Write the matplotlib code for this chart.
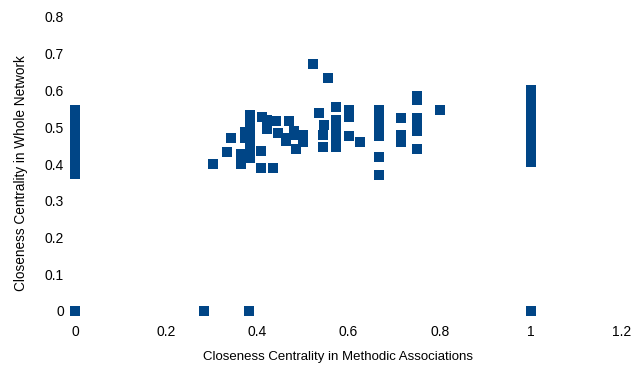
import matplotlib
matplotlib.use("Agg")
import matplotlib.pyplot as plt

plt.rcParams['font.family'] = ['Liberation Sans', 'DejaVu Sans']

# Closeness centrality: methodic associations (x) vs whole network (y)
x_vals = [
    # nodes at x = 0 (stacked column)
    0, 0, 0, 0, 0, 0, 0, 0, 0, 0, 0, 0, 0, 0,
    # zero closeness in whole network
    0, 0.283, 0.382, 1,
    # main cluster
    0.302, 0.334, 0.343, 0.365, 0.365, 0.372, 0.372,
    0.385, 0.385, 0.385, 0.385, 0.385, 0.385, 0.385, 0.385,
    0.411, 0.422, 0.422, 0.409, 0.409, 0.435,
    0.442, 0.446, 0.462, 0.462, 0.47, 0.481, 0.484, 0.484, 0.5, 0.5,
    0.523, 0.556, 0.536, 0.547, 0.543, 0.543,
    0.573, 0.573, 0.573, 0.573, 0.573, 0.573, 0.573,
    0.602, 0.602, 0.602, 0.626,
    0.667, 0.667, 0.667, 0.667, 0.667, 0.667, 0.667,
    0.716, 0.716, 0.716,
    0.75, 0.75, 0.75, 0.75, 0.75, 0.75,
    0.8,
    # nodes at x = 1 (stacked column)
    1, 1, 1, 1, 1, 1, 1, 1, 1, 1, 1, 1, 1, 1, 1,
]
y_vals = [
    0.547, 0.535, 0.52, 0.505, 0.49, 0.475, 0.46, 0.445, 0.43, 0.415, 0.40, 0.39, 0.38, 0.372,
    0, 0, 0, 0,
    0.399, 0.434, 0.472, 0.426, 0.401, 0.488, 0.472,
    0.532, 0.52, 0.505, 0.49, 0.475, 0.46, 0.44, 0.415,
    0.527, 0.52, 0.494, 0.435, 0.39, 0.388,
    0.516, 0.483, 0.472, 0.462, 0.518, 0.491, 0.478, 0.442, 0.478, 0.459,
    0.673, 0.635, 0.54, 0.507, 0.48, 0.445,
    0.554, 0.52, 0.505, 0.49, 0.475, 0.46, 0.447,
    0.548, 0.527, 0.475, 0.459,
    0.548, 0.53, 0.51, 0.49, 0.475, 0.418, 0.369,
    0.524, 0.478, 0.46,
    0.584, 0.573, 0.524, 0.507, 0.491, 0.44,
    0.548,
    0.601, 0.587, 0.573, 0.56, 0.545, 0.53, 0.515, 0.5, 0.487, 0.473, 0.46, 0.445, 0.43, 0.417, 0.405,
]

x_ticks = [0, 0.2, 0.4, 0.6, 0.8, 1, 1.2]
x_labels = ['0', '0.2', '0.4', '0.6', '0.8', '1', '1.2']
y_ticks = [0, 0.1, 0.2, 0.3, 0.4, 0.5, 0.6, 0.7, 0.8]
y_labels = ['0', '0.1', '0.2', '0.3', '0.4', '0.5', '0.6', '0.7', '0.8']

fig = plt.figure(figsize=(6.35, 3.68), dpi=100)
ax = fig.add_axes([75 / 635, 1 - 311 / 368, 547 / 635, 294 / 368])

ax.plot(x_vals, y_vals, linestyle='none', marker='s', markersize=7.9,
        color='#004586', markeredgewidth=0, clip_on=False)

ax.set_xlim(0, 1.2)
ax.set_ylim(0, 0.8)
ax.set_xticks(x_ticks)
ax.set_xticklabels(x_labels)
ax.set_yticks(y_ticks)
ax.set_yticklabels(y_labels)
ax.tick_params(axis='both', length=0, labelsize=10, colors='#000000')
ax.tick_params(axis='x', pad=10)
ax.tick_params(axis='y', pad=8)
for s in ax.spines.values():
    s.set_visible(False)

fig.text(338 / 635, 1 - 357 / 368, 'Closeness Centrality in Methodic Associations',
         ha='center', va='center', fontsize=9.5)
fig.text(21 / 635, 1 - 173 / 368, 'Closeness Centrality in Whole Network',
         ha='center', va='center', rotation=90, fontsize=9.8)

fig.savefig('out.png', dpi=100)
